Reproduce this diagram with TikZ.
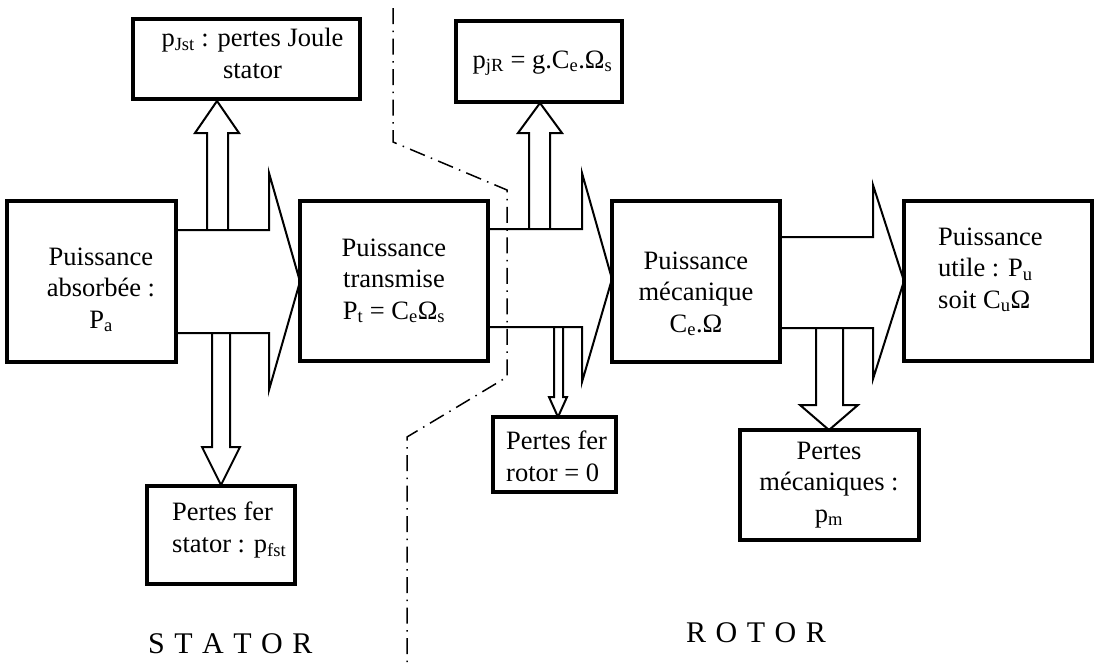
\documentclass[tikz,border=0pt]{standalone}
\usepackage{fontspec}
\setmainfont{Liberation Serif}
\newcommand\sbs[1]{\textsubscript{#1}}
\newcommand\lsp{\hspace{9.5pt}}
\begin{document}
\begin{tikzpicture}[x=1pt,y=-1pt,
  box/.style={draw,line width=3.2pt,inner sep=0pt,outer sep=0pt},
  txt/.style={font=\fontsize{26.5}{31.5}\selectfont,inner sep=0pt,anchor=base,align=center},
  ltxt/.style={font=\fontsize{26.5}{31.5}\selectfont,inner sep=0pt,anchor=base west,align=left},
  big/.style={font=\fontsize{30}{36}\selectfont,inner sep=0pt,anchor=base west},
  flow/.style={draw,line width=2pt,line join=miter},
  sep/.style={line width=1.5pt,dash pattern=on 16pt off 6.5pt on 1.5pt off 6.5pt}]
\useasboundingbox (0,0) rectangle (1096,665);

% boxes
\node[box,minimum width=169pt,minimum height=161pt] (pa) at (91.5,281.5) {};
\node[box,minimum width=188pt,minimum height=160pt] (pt) at (394,281) {};
\node[box,minimum width=168pt,minimum height=161pt] (pm) at (696,281.5) {};
\node[box,minimum width=188pt,minimum height=160pt] (pu) at (998,281) {};
\node[box,minimum width=227pt,minimum height=80pt] (pjs) at (246.5,59) {};
\node[box,minimum width=166pt,minimum height=81pt] (pjr) at (539,61.5) {};
\node[box,minimum width=148pt,minimum height=98pt] (pfs) at (221,535) {};
\node[box,minimum width=123pt,minimum height=75pt] (pfr) at (554.5,454.5) {};
\node[box,minimum width=179pt,minimum height=110pt] (pmc) at (829.5,485) {};

% texts (anchored at the baseline of their last line)
\node[txt] (tpa) at (101,328) {Puissance\\absorbée :\\P\sbs{a}};
\node[txt] (tpt) at (394,319) {Puissance\\transmise\\P\sbs{t} = C\sbs{e}Ω\sbs{s}};
\node[txt] (tpm) at (696,332) {Puissance\\mécanique\\C\sbs{e}.Ω};
\node[ltxt] (tpu) at (938,308) {Puissance\\utile : P\sbs{u}\\soit C\sbs{u}Ω};
\node[txt] (tpjs) at (252.5,78) {p\sbs{Jst} : pertes Joule\\stator};
\node[txt] (tpjr) at (542.5,68) {p\sbs{jR} = g.C\sbs{e}.Ω\sbs{s}};
\node[ltxt] (tpfs) at (172,552) {Pertes fer\\stator : p\sbs{fst}};
\node[ltxt] (tpfr) at (506,481) {Pertes fer\\rotor = 0};
\node[txt] (tpmc) at (829,522) {Pertes\\mécaniques :\\p\sbs{m}};

\node[big] (stator) at (148,653) {S\lsp T\lsp A\lsp T\lsp O\lsp R};
\node[big] (rotor) at (686,642) {R\lsp O\lsp T\lsp O\lsp R};

% big flow arrows
\draw[flow] (176,230) -- (269,230) -- (269,173) -- (300,281.5) -- (269,390) -- (269,333) -- (176,333);
\draw[flow] (488,229) -- (582,229) -- (582,173) -- (612,279) -- (582,382) -- (582,327) -- (488,327);
\draw[flow] (780,237) -- (873,237) -- (873,185) -- (904,281) -- (873,379) -- (873,328) -- (780,328);

% loss arrows
\draw[flow] (207,230) -- (207,133) -- (195,133) -- (217,101) -- (239,133) -- (228,133) -- (228,230);
\draw[flow] (529,229) -- (529,133) -- (518,133) -- (540,103) -- (562,133) -- (550,133) -- (550,229);
\draw[flow] (212,333) -- (212,447) -- (202,447) -- (221,485) -- (240,447) -- (230,447) -- (230,333);
\draw[flow] (554,327) -- (554,397) -- (549,397) -- (558,417) -- (567,397) -- (563,397) -- (563,327);
\draw[flow] (816,328) -- (816,405) -- (800,405) -- (829,430) -- (858,405) -- (843,405) -- (843,328);

% separator
\draw[sep] (393,8) -- (393,142) -- (507,190) -- (507,377) -- (407,437) -- (407,665);
\end{tikzpicture}
\end{document}
